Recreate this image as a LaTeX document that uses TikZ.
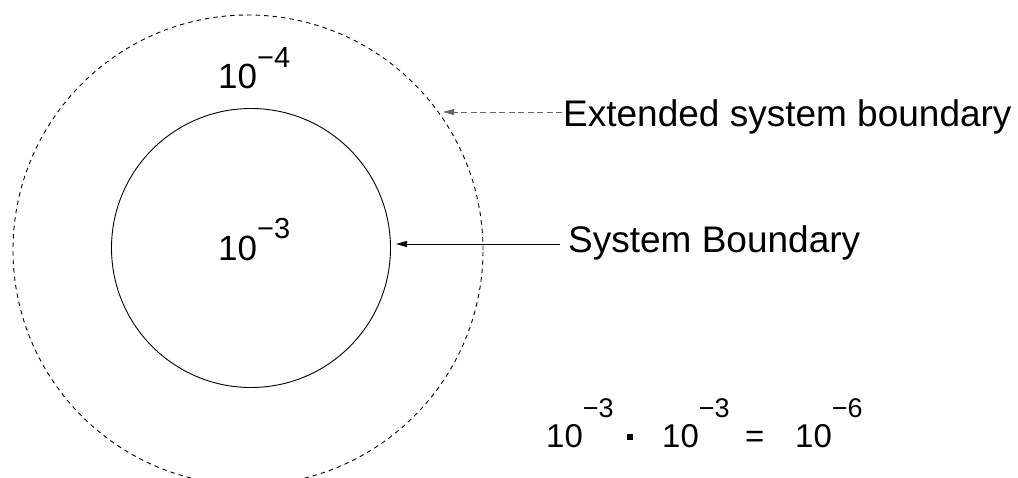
\documentclass[tikz,border=0pt]{standalone}
\usepackage{fontspec}
\setmainfont{Liberation Sans}
\usetikzlibrary{arrows.meta}
\newcommand{\tenpow}[4]{\fontsize{#3}{#3}\selectfont 10\raisebox{#2}{\fontsize{#4}{#4}\selectfont −#1}}
\tikzset{
  lbl/.style={anchor=base west, inner sep=0pt, font=\fontsize{37pt}{37pt}\selectfont},
  pw/.style={anchor=base west, inner sep=0pt},
  arr/.style={-{Triangle[length=11pt,width=6pt]}, line width=0.9pt},
  dasharr/.style={arr, draw=black!60, dash pattern=on 6pt off 3.5pt},
  ring/.style={circle, draw, inner sep=0pt, line width=0.9pt},
}
\begin{document}
\begin{tikzpicture}[x=1pt,y=-1pt]
\useasboundingbox (0,0) rectangle (1018,477);
\clip (0,0) rectangle (1018,477);
\node[ring, dash pattern=on 4.5pt off 4pt, minimum size=470pt] (outer) at (248,250) {};
\node[ring, minimum size=279pt] (inner) at (251,248) {};
\node[pw] (p4) at (218,88) {\tenpow{4}{21pt}{35pt}{29pt}};
\node[pw] (p3) at (218,260) {\tenpow{3}{22pt}{35pt}{29pt}};
\node[lbl] (ext) at (563,126) {Extended system boundary};
\node[lbl] (sys) at (568,252) {System Boundary};
\coordinate (extstart) at (562,112);
\coordinate (exttip) at (443,112);
\coordinate (sysstart) at (560,244);
\coordinate (systip) at (396,244);
\draw[dasharr] (extstart) -- (exttip);
\draw[arr] (sysstart) -- (systip);
\node[pw] (ea) at (546,447) {\tenpow{3}{30pt}{33pt}{27pt}};
\node[fill, inner sep=0pt, minimum size=6pt] (dot) at (630,437) {};
\node[pw] (eb) at (662,447) {\tenpow{3}{30pt}{33pt}{27pt}};
\node[pw, font=\fontsize{33pt}{33pt}\selectfont] (eq) at (745,447) {=};
\node[pw] (ec) at (795,447) {\tenpow{6}{30pt}{33pt}{27pt}};
\end{tikzpicture}
\end{document}
